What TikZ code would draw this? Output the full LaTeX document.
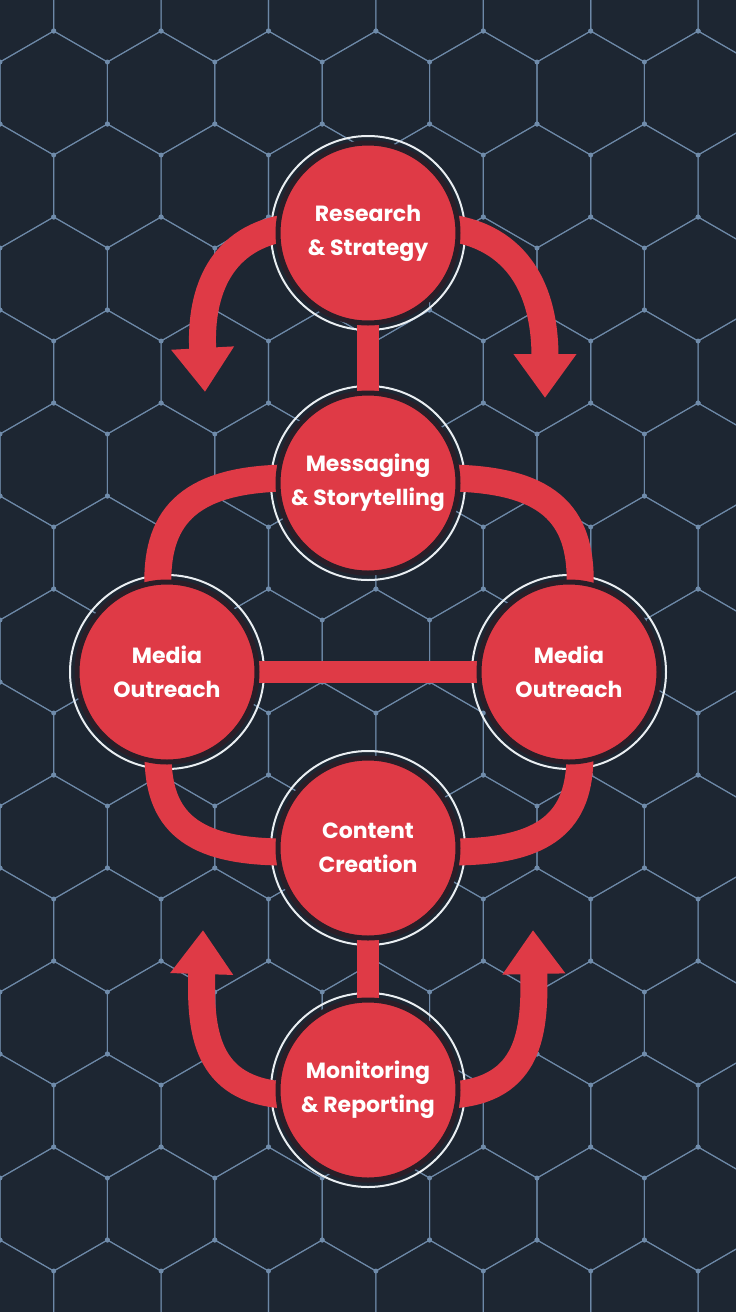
\documentclass[tikz,border=0pt]{standalone}
\usepackage{fontspec}
\setmainfont{Poppins}
\usetikzlibrary{arrows.meta}
\definecolor{bg}{HTML}{1D2632}
\definecolor{hexc}{HTML}{6F8BAA}
\definecolor{redc}{HTML}{DF3A46}
\definecolor{ringc}{HTML}{2A1E28}
\tikzset{
  stage/.style={circle,fill=redc,draw=ringc,line width=5pt,minimum size=180pt,inner sep=0pt,
    text=white,align=center,font=\fontsize{22}{34}\selectfont\bfseries},
  ringw/.style={circle,draw=white!85!hexc,line width=2pt,minimum size=194pt,inner sep=0pt},
  band/.style={draw=redc,line width=27pt},
  arr/.style={band,-{Triangle[width=60pt,length=44pt]}},
  hexl/.style={draw=hexc,line width=1.1pt,opacity=0.85}
}
\begin{document}
\begin{tikzpicture}[x=1pt,y=1pt]
\useasboundingbox (0,0) rectangle (736,-1312);
\fill[bg] (0,0) rectangle (736,-1312);
\begin{scope}
\clip (0,0) rectangle (736,-1312);
\foreach \r in {0,...,15}{
 \foreach \c in {-1,...,7}{
  \pgfmathsetmacro{\cx}{\c*107.4+mod(\r,2)*53.7}
  \pgfmathsetmacro{\cy}{-\r*93}
  \draw[hexl] (\cx,\cy+62) -- ++(-30:62) -- ++(-90:62) -- ++(-150:62) -- ++(150:62) -- ++(90:62) -- cycle;
  \fill[hexc] (\cx,\cy+62) circle (2.5pt) (\cx+53.7,\cy+31) circle (2.5pt) (\cx+53.7,\cy-31) circle (2.5pt);
 }}
\end{scope}
% nodes
\node[ringw] (wr) at (368,-233) {};
\node[ringw] (wm) at (368,-483) {};
\node[ringw] (wl) at (167,-672) {};
\node[ringw] (wrr) at (569,-672) {};
\node[ringw] (wc) at (368,-848) {};
\node[ringw] (wmo) at (368,-1090) {};
% connectors
\draw[band,line width=22pt] (368,-320) -- (368,-400);
\draw[band,line width=22pt] (368,-930) -- (368,-1010);
\draw[band,line width=22pt] (250,-672) -- (490,-672);
\draw[arr] (285,-228) .. controls (215,-240) and (200,-300) .. (205,-392);
\draw[arr] (451,-228) .. controls (525,-240) and (545,-300) .. (545,-398);
\draw[band] (285,-478) .. controls (185,-480) and (155,-520) .. (158,-590);
\draw[band] (451,-478) .. controls (555,-480) and (583,-520) .. (580,-590);
\draw[band] (158,-755) .. controls (158,-820) and (190,-852) .. (285,-852);
\draw[band] (580,-755) .. controls (580,-820) and (548,-852) .. (451,-852);
\draw[arr] (285,-1095) .. controls (205,-1090) and (200,-1030) .. (203,-930);
\draw[arr] (451,-1095) .. controls (531,-1090) and (535,-1030) .. (533,-930);
\node[stage] (research) at (wr) {Research\\\& Strategy};
\node[stage] (messaging) at (wm) {Messaging\\\& Storytelling};
\node[stage] (medial) at (wl) {Media\\Outreach};
\node[stage] (mediar) at (wrr) {Media\\Outreach};
\node[stage] (content) at (wc) {Content\\Creation};
\node[stage] (monitor) at (wmo) {Monitoring\\\& Reporting};
\end{tikzpicture}
\end{document}
